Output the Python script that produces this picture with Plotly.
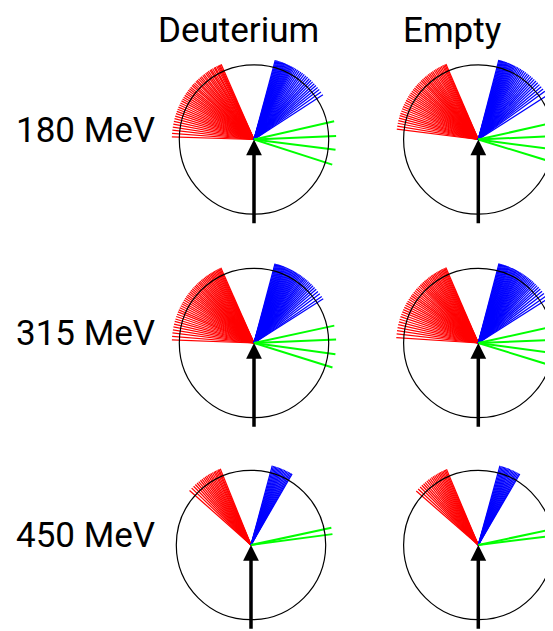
import plotly.graph_objects as go
import math

# ---------------- data (angles in degrees, counter-clockwise from +x) ----------------
targets = ["Deuterium", "Empty"]
energies = ["180 MeV", "315 MeV", "450 MeV"]

red_D180 = [113.6, 114.5, 115.2, 116.0, 117.0, 118.2, 119.0, 120.3, 121.5, 122.4, 123.8, 125.0,
            126.1, 127.5, 128.6, 130.0, 131.2, 132.5, 133.9, 135.0, 136.4, 137.8, 139.0, 140.5,
            141.8, 143.2, 144.6, 146.0, 147.5, 149.0, 150.5, 152.0, 153.6, 155.2, 156.8, 158.4,
            160.0, 161.7, 163.5, 165.3, 167.2, 169.2, 171.3, 173.5, 175.8, 178.2]
red_E180 = [113.2, 114.0, 114.9, 115.8, 116.9, 118.0, 119.1, 120.2, 121.4, 122.6, 123.9, 125.1,
            126.4, 127.6, 128.9, 130.2, 131.5, 132.8, 134.1, 135.5, 136.9, 138.3, 139.7, 141.1,
            142.5, 144.0, 145.5, 147.0, 148.5, 150.0, 151.6, 153.2, 154.8, 156.4, 158.0, 159.7,
            161.4, 163.1, 164.9, 166.7, 168.6, 170.6, 172.8]
red_D315 = [113.8, 114.6, 115.4, 116.2, 117.1, 118.0, 119.0, 120.0, 121.0, 122.0, 123.1, 124.2,
            125.3, 126.4, 127.5, 128.7, 129.9, 131.1, 132.3, 133.5, 134.8, 136.1, 137.4, 138.7,
            140.0, 141.4, 142.8, 144.2, 145.6, 147.0, 148.5, 150.0, 151.5, 153.0, 154.6, 156.2,
            157.8, 159.5, 161.2, 163.0, 164.8, 166.7, 168.7, 170.8, 173.0, 175.3, 177.8]
red_E315 = [113.3, 114.1, 114.9, 115.8, 116.7, 117.6, 118.6, 119.6, 120.6, 121.7, 122.8, 123.9,
            125.0, 126.2, 127.4, 128.6, 129.8, 131.0, 132.3, 133.6, 134.9, 136.2, 137.6, 139.0,
            140.4, 141.8, 143.3, 144.8, 146.3, 147.8, 149.4, 151.0, 152.6, 154.3, 156.0, 157.7,
            159.5, 161.3, 163.2, 165.1, 167.1, 169.2, 171.4, 173.7, 176.2]
red_D450 = [112.0, 113.0, 113.8, 114.8, 115.9, 116.8, 118.0, 119.2, 120.3, 121.5, 122.8, 124.0,
            125.3, 126.6, 128.0, 129.5, 131.0, 132.6, 134.3, 136.2, 138.4]
red_E450 = [112.8, 113.7, 114.6, 115.6, 116.6, 117.6, 118.7, 119.8, 121.0, 122.2, 123.4, 124.7,
            126.0, 127.4, 128.8, 130.3, 131.8, 133.4, 135.1, 137.0, 139.0]

blue_D180 = [75.0, 74.3, 73.6, 72.9, 72.2, 71.5, 70.8, 70.1, 69.4, 68.7, 68.0, 67.2, 66.4, 65.6,
             64.8, 64.0, 63.2, 62.4, 61.5, 60.5, 59.3, 58.0, 56.6, 55.2, 53.8, 52.3, 50.8, 49.3,
             47.7, 46.1, 44.5, 42.8, 41.1, 39.3, 37.4, 35.4, 33.0]
blue_E180 = [75.5, 74.8, 74.1, 73.4, 72.7, 72.0, 71.3, 70.6, 69.9, 69.2, 68.4, 67.6, 66.8, 66.0,
             65.2, 64.3, 63.4, 62.4, 61.3, 60.1, 58.9, 57.6, 56.2, 54.8, 53.3, 51.8, 50.3, 48.7,
             47.1, 45.4, 43.7, 41.9, 40.0, 38.0, 35.9, 32.7]
blue_D315 = [75.2, 74.5, 73.8, 73.1, 72.4, 71.7, 71.0, 70.3, 69.6, 68.9, 68.2, 67.5, 66.7, 65.9,
             65.1, 64.3, 63.5, 62.7, 61.9, 61.0, 60.1, 59.2, 58.3, 57.3, 56.3, 55.3, 54.2, 53.1,
             52.0, 50.8, 49.6, 48.3, 47.0, 45.6, 44.1, 42.5, 40.8, 38.9, 36.8, 34.5, 32.6]
blue_E315 = [75.4, 74.7, 74.0, 73.3, 72.6, 71.9, 71.2, 70.5, 69.8, 69.1, 68.4, 67.7, 66.9, 66.1,
             65.3, 64.5, 63.7, 62.9, 62.1, 61.2, 60.3, 59.4, 58.5, 57.5, 56.5, 55.5, 54.4, 53.3,
             52.2, 51.0, 49.8, 48.5, 47.2, 45.8, 44.3, 42.7, 41.0, 39.1, 37.0, 34.7, 32.5]
blue_D450 = [75.0, 74.1, 73.2, 72.3, 71.4, 70.5, 69.6, 68.7, 67.8, 66.8, 65.8, 64.8, 63.8, 62.8,
             61.8, 60.8, 60.0]
blue_E450 = [74.7, 73.8, 72.9, 72.0, 71.1, 70.2, 69.3, 68.4, 67.5, 66.5, 65.5, 64.5, 63.5, 62.5,
             61.5, 60.5, 59.7]

green_D180 = [12.8, 2.4, -7.2, -17.8]
green_E180 = [12.6, 2.5, -7.5, -17.0]
green_D315 = [12.2, 2.4, -7.8, -17.3]
green_E315 = [12.4, 2.4, -7.6, -17.2]
green_D450 = [12.1, 7.6]
green_E450 = [12.1, 7.1]

# ---------------- layout constants (pixel-like data units) ----------------
PAGE_W, PAGE_H = 553, 631
BODY = 8                     # default page margin around the plot div
W, H = PAGE_W - BODY, PAGE_H - BODY
R = 74.7                     # circle radius
L_FAN = 1.1                  # fan line length in radii
L_BEAM = 1.14                # incoming beam arrow length in radii
col_x = {("Deuterium", 0): 254.0, ("Deuterium", 1): 254.0, ("Deuterium", 2): 251.0,
         ("Empty", 0): 478.3, ("Empty", 1): 478.3, ("Empty", 2): 478.3}
row_y = [139.5, 343.0, 545.0]

panels = {
    ("Deuterium", 0): (red_D180, blue_D180, green_D180),
    ("Empty", 0): (red_E180, blue_E180, green_E180),
    ("Deuterium", 1): (red_D315, blue_D315, green_D315),
    ("Empty", 1): (red_E315, blue_E315, green_E315),
    ("Deuterium", 2): (red_D450, blue_D450, green_D450),
    ("Empty", 2): (red_E450, blue_E450, green_E450),
}

colors = ["#ff0000", "#0000ff", "#00ff00"]
widths = [1.25, 1.25, 2.0]

fig = go.Figure()
shapes = []
annotations = []

def fan(cx, cy, angles):
    xs, ys = [], []
    for a in angles:
        t = math.radians(a)
        xs += [cx, cx + L_FAN * R * math.cos(t), None]
        ys += [cy, cy - L_FAN * R * math.sin(t), None]
    return xs, ys

for (tgt, r), sets in panels.items():
    cx, cy = col_x[(tgt, r)], row_y[r]
    for angs, c, w in zip(sets, colors, widths):
        xs, ys = fan(cx, cy, angs)
        fig.add_trace(go.Scatter(x=xs, y=ys, mode="lines",
                                 line=dict(color=c, width=w),
                                 hoverinfo="skip", showlegend=False))
    shapes.append(dict(type="circle", xref="x", yref="y", layer="above",
                       x0=cx - R, x1=cx + R, y0=cy - R, y1=cy + R,
                       line=dict(color="black", width=1.2)))
    annotations.append(dict(x=cx, y=cy, ax=cx, ay=cy + L_BEAM * R,
                            xref="x", yref="y", axref="x", ayref="y",
                            text="", showarrow=True, arrowhead=2, arrowsize=0.9,
                            arrowwidth=3.5, arrowcolor="black"))

FONT = "Roboto"
FS = 35
title_x = {"Deuterium": 238.5, "Empty": 452.5}
for t in targets:
    annotations.append(dict(x=title_x[t], y=BODY, xref="x", yref="y", text=t,
                            showarrow=False, xanchor="center", yanchor="top",
                            font=dict(family=FONT, size=FS, color="black")))
label_y = [130.0, 333.5, 535.5]
for e, y in zip(energies, label_y):
    annotations.append(dict(x=85.5, y=y, xref="x", yref="y", text=e,
                            showarrow=False, xanchor="center", yanchor="middle",
                            font=dict(family=FONT, size=FS, color="black")))

fig.update_layout(
    width=W, height=H,
    margin=dict(l=0, r=0, t=0, b=0),
    paper_bgcolor="white", plot_bgcolor="white",
    xaxis=dict(range=[BODY, PAGE_W], visible=False, fixedrange=True),
    yaxis=dict(range=[BODY + H, BODY], visible=False, fixedrange=True),
    shapes=shapes, annotations=annotations,
    showlegend=False,
)

fig.write_html("out.html")
